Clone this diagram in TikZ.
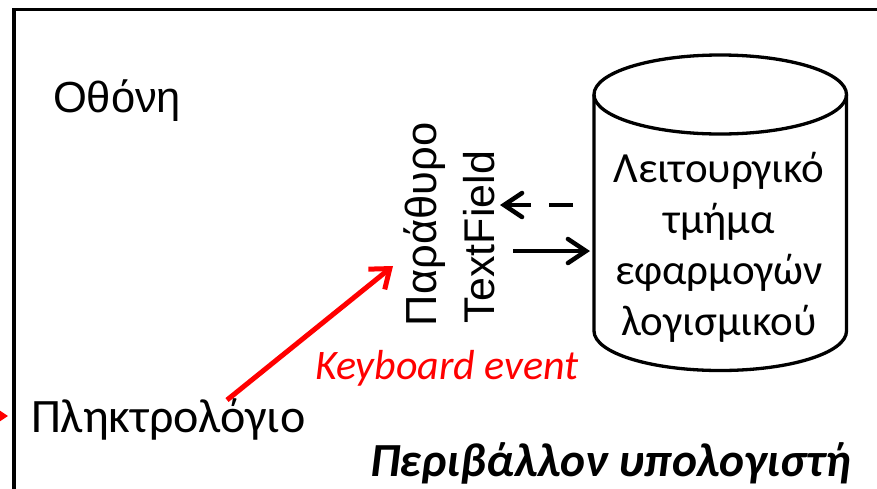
\documentclass[tikz,border=0pt]{standalone}
\usepackage{fontspec}
\setmainfont{Carlito}
\newfontfamily\arialf{Liberation Sans}
\usetikzlibrary{arrows.meta}
\begin{document}
\begin{tikzpicture}[x=1pt,y=-1pt,
  txt/.style={inner sep=0pt, outer sep=0pt},
  blk/.style={line width=4.5pt, black, -{Straight Barb[length=18pt,width=24pt,line cap=round]}},
  redarr/.style={line width=5pt, red, -{Straight Barb[length=17pt,width=26pt]}},
  frame/.style={line width=3.5pt, black},
  cylline/.style={line width=3.3pt, black}]
\clip (0,0) rectangle (877,488);
\fill[white] (0,0) rectangle (877,488);
% frame
\draw[frame] (14,520) -- (14,9.5) -- (900,9.5);
% texts
\node[txt, anchor=base west, font=\arialf\fontsize{43.5}{50}\selectfont] (screen) at (53,112) {Οθόνη};
\node[txt, anchor=base west, font=\fontsize{48}{56}\selectfont] (kbd) at (31,432) {Πληκτρολόγιο};
\node[txt, anchor=base west, text=red, font=\itshape\fontsize{42}{50}\selectfont] (kev) at (315,379) {Keyboard event};
\node[txt, anchor=base west, font=\bfseries\itshape\fontsize{47.5}{56}\selectfont] (env) at (370,476) {Περιβάλλον υπολογιστή};
\node[txt, anchor=base west, rotate=90, font=\arialf\fontsize{43.5}{50}\selectfont] (win) at (436,326) {Παράθυρο};
\node[txt, anchor=base west, rotate=90, font=\arialf\fontsize{43}{50}\selectfont] (tf) at (494,323) {TextField};
% cylinder
\draw[cylline] (594,94.5) -- (594,331)
  arc[start angle=180, end angle=360, x radius=126.25pt, y radius=39.5pt]
  -- (846.5,94.5);
\draw[cylline] (720.25,94.5) ellipse [x radius=126.25pt, y radius=39.5pt];
\node[txt, align=center, font=\fontsize{43}{51}\selectfont] (cyl) at (719,247)
  {Λειτουργικό\\τμήμα\hspace*{17pt}\\εφαρμογών\\λογισμικού};
% connectors
\coordinate (dStart) at (573,205);
\coordinate (dEnd) at (500,205);
\coordinate (sStart) at (513,251);
\coordinate (sEnd) at (590,251);
\draw[blk, dash pattern=on 24pt off 18pt] (dStart) -- (dEnd);
\draw[blk] (sStart) -- (sEnd);
\coordinate (rStart) at (227,400);
\coordinate (rEnd) at (393,266);
\draw[redarr] (rStart) -- (rEnd);
\coordinate (inStart) at (-30,416);
\coordinate (inEnd) at (8,416);
\draw[red, line width=3pt, -{Triangle[length=8pt,width=10pt]}] (inStart) -- (inEnd);
\end{tikzpicture}
\end{document}
